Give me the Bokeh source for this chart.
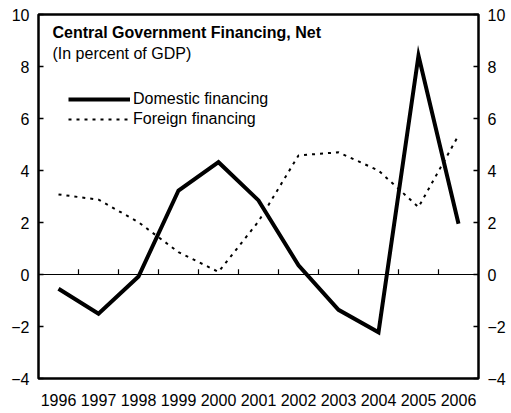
from bokeh.plotting import figure
from bokeh.models import Range1d, LinearAxis, FixedTicker, Label, Legend, LegendItem, Span
from bokeh.embed import file_html
from bokeh.resources import INLINE

years = ["1996", "1997", "1998", "1999", "2000", "2001", "2002", "2003", "2004", "2005", "2006"]
domestic = [-0.55, -1.51, -0.08, 3.23, 4.32, 2.85, 0.35, -1.36, -2.22, 8.42, 1.95]
foreign = [3.08, 2.88, 2.01, 0.86, 0.10, 2.04, 4.58, 4.70, 4.00, 2.59, 5.35]
y_ticks = [-4, -2, 0, 2, 4, 6, 8, 10]
title_text = "Central Government Financing, Net"
subtitle_text = "(In percent of GDP)"

FONT = "Liberation Sans"
FS = "16px"

xs = list(range(len(years)))

p = figure(width=508, height=413, output_backend="svg", toolbar_location=None,
           x_range=Range1d(-0.5, len(years) - 0.5), y_range=Range1d(-4, 10),
           min_border_left=38, min_border_right=30, min_border_top=14, min_border_bottom=35)
p.xgrid.visible = False
p.ygrid.visible = False
p.outline_line_color = "black"
p.outline_line_width = 2.5
p.outline_line_alpha = 1.0
p.background_fill_color = "white"
p.border_fill_color = "white"

# x axis
p.xaxis.ticker = FixedTicker(ticks=xs)
p.xaxis.major_label_overrides = {i: y for i, y in enumerate(years)}
p.xaxis.major_tick_in = 0
p.xaxis.major_tick_out = 0
p.xaxis.minor_tick_in = 0
p.xaxis.minor_tick_out = 0
p.xaxis.axis_line_color = None
p.xaxis.major_label_standoff = 15
p.xaxis.major_label_text_font = FONT
p.xaxis.major_label_text_font_size = FS
p.xaxis.major_label_text_color = "black"

# y axes
def style_y(ax):
    ax.ticker = FixedTicker(ticks=y_ticks)
    ax.major_tick_in = 5
    ax.major_tick_out = 0
    ax.minor_tick_in = 0
    ax.minor_tick_out = 0
    ax.major_tick_line_color = "black"
    ax.major_tick_line_width = 1.5
    ax.axis_line_color = None
    ax.major_label_standoff = 9
    ax.major_label_text_font = FONT
    ax.major_label_text_font_size = FS
    ax.major_label_text_color = "black"

style_y(p.yaxis[0])
right = LinearAxis()
style_y(right)
p.add_layout(right, "right")

# zero line with small upward ticks between years
p.add_layout(Span(location=0, dimension="width", line_color="black", line_width=1.2))
bounds = [i + 0.5 for i in xs[:-1]]
p.segment(x0=bounds, x1=bounds, y0=[0] * len(bounds), y1=[0.2] * len(bounds),
          line_color="black", line_width=1.2)

# series
r_dom = p.line(xs, domestic, line_color="black", line_width=4, line_join="miter")
r_for = p.line(xs, foreign, line_color="black", line_width=2, line_dash="3 5")

legend = Legend(items=[LegendItem(label="Domestic financing", renderers=[r_dom]),
                       LegendItem(label="Foreign financing", renderers=[r_for])],
                location=(30, 249), glyph_width=62, glyph_height=20, label_height=20,
                label_standoff=3, spacing=0, padding=0, margin=0,
                border_line_color=None, background_fill_alpha=0,
                label_text_font=FONT, label_text_font_size=FS, label_text_color="black")
p.add_layout(legend, "center")

p.add_layout(Label(x=-0.15, y=9.31, text=title_text, text_font=FONT, text_font_size=FS,
                   text_font_style="bold", text_color="black", text_baseline="alphabetic"))
p.add_layout(Label(x=-0.15, y=8.51, text=subtitle_text, text_font=FONT, text_font_size=FS,
                   text_color="black", text_baseline="alphabetic"))

open("out.html", "w").write(file_html(p, INLINE))
